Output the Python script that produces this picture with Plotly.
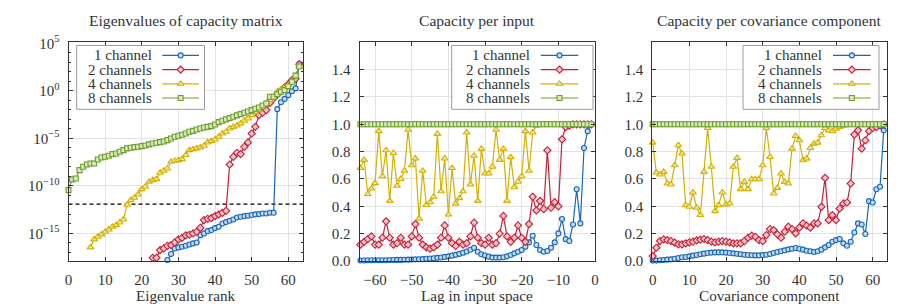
import plotly.graph_objects as go

# ---------------- data ----------------
series_names = ["1 channel", "2 channels", "4 channels", "8 channels"]

ranks = list(range(64))          # panel 1 x
lags = list(range(-64, 0))       # panel 2 x
components = list(range(64))     # panel 3 x

# Panel 1: log10 of eigenvalues (None = below the visible range)
eig_log10_1ch = [None] * 27 + [
    -17.8, -17.17, -16.58, -16.47, -16.40, -16.30, -16.16, -16.05, -15.95,
    -15.18, -15.0, -14.76, -14.65, -14.44, -14.30, -13.95, -13.81, -13.67, -13.53,
    -13.32, -13.25, -13.18, -13.14, -13.07, -13.0, -12.97, -12.90, -12.90, -12.83,
    -12.83, -1.93, -1.2, -0.85, -0.46, -0.05, 0.25, 2.8]
eig_log10_2ch = [None] * 23 + [
    -17.56, -17.56, -16.75, -16.58, -16.30, -16.23, -15.95, -15.63, -15.46, -15.21,
    -15.14, -15.0, -14.83, -14.41, -13.6, -13.46, -13.39, -13.18, -13.0, -12.83,
    -12.62, -7.75, -6.94, -6.52, -6.66, -5.89, -5.43, -4.49, -3.79, -2.56,
    -2.31, -2.03, -1.26, -0.81, -0.39, 0.0, 0.35, 0.70, 1.12, 1.26,
    2.80]
eig_log10_4ch = [None] * 6 + [
    -16.47, -15.63, -15.35, -15.1, -14.83, -14.58, -14.3, -14.13, -13.85, -13.53,
    -11.99, -11.5, -11.25, -10.9, -10.34, -10.09, -9.57, -9.39, -9.29, -8.62,
    -8.41, -8.17, -7.47, -7.36, -7.29, -7.19, -6.76, -6.24, -6.13, -6.06,
    -5.96, -5.78, -5.43, -5.29, -5.12, -4.84, -4.49, -4.31, -3.96, -3.79,
    -3.65, -3.43, -3.15, -2.91, -2.56, -2.24, -2.03, -1.75, -1.26, -0.98,
    -0.7, -0.1, 0.14, 0.35, 0.6, 0.95, 1.54, 2.59]
eig_log10_8ch = [
    -10.45, -9.32, -9.22, -8.34, -7.99, -7.75, -7.64, -7.64, -7.22, -7.01,
    -6.94, -6.83, -6.66, -6.59, -6.41, -6.24, -6.06, -5.99, -5.92, -5.89,
    -5.82, -5.75, -5.64, -5.54, -5.47, -5.40, -5.33, -5.19, -5.01, -4.84,
    -4.73, -4.63, -4.49, -4.31, -4.21, -4.07, -3.96, -3.86, -3.79, -3.72,
    -3.54, -3.29, -3.15, -3.01, -2.87, -2.73, -2.59, -2.45, -2.31, -2.17,
    -2.03, -1.89, -1.75, -1.54, -1.33, -0.63, -0.63, -0.35, -0.1, 0.07,
    0.49, 0.95, 1.6, 2.55]
threshold_log10 = -11.92

# Panel 2: capacity per input (lag)
cap_input_1ch = [
    0.004, 0.004, 0.005, 0.005, 0.005, 0.005, 0.006, 0.006, 0.007, 0.007,
    0.008, 0.008, 0.009, 0.010, 0.011, 0.012, 0.013, 0.014, 0.016, 0.018,
    0.020, 0.023, 0.026, 0.030, 0.034, 0.039, 0.045, 0.052, 0.060, 0.070,
    0.082, 0.097, 0.068, 0.049, 0.040, 0.032, 0.025, 0.025, 0.025, 0.027,
    0.034, 0.044, 0.056, 0.068, 0.080, 0.105, 0.136, 0.185, 0.117, 0.080,
    0.068, 0.073, 0.097, 0.136, 0.202, 0.307, 0.160, 0.146, 0.267, 0.525,
    0.275, 0.827, 0.95, 1.0]
cap_input_2ch = [
    0.12, 0.14, 0.16, 0.18, 0.12, 0.12, 0.17, 0.29, 0.17, 0.12,
    0.13, 0.17, 0.12, 0.12, 0.18, 0.27, 0.17, 0.12, 0.10, 0.09,
    0.10, 0.12, 0.17, 0.26, 0.17, 0.13, 0.11, 0.14, 0.12, 0.13,
    0.18, 0.28, 0.17, 0.13, 0.12, 0.17, 0.12, 0.13, 0.20, 0.33,
    0.18, 0.14, 0.17, 0.26, 0.17, 0.14, 0.27, 0.47, 0.37, 0.44,
    0.38, 0.81, 0.39, 0.43, 0.40, 0.89, 0.98, 0.99, 1.0, 1.0,
    1.0, 1.0, 1.0, 1.0]
cap_input_4ch = [
    0.68, 0.74, 0.49, 0.53, 0.57, 0.95, 0.62, 0.81, 0.44, 0.79,
    0.55, 0.60, 0.66, 0.96, 0.70, 0.75, 0.31, 0.66, 0.41, 0.43,
    0.47, 0.93, 0.51, 0.75, 0.34, 0.68, 0.42, 0.46, 0.51, 0.94,
    0.56, 0.77, 0.44, 0.82, 0.64, 0.64, 0.69, 0.96, 0.74, 0.82,
    0.44, 0.76, 0.54, 0.58, 0.62, 0.95, 0.66, 0.94, 0.99, 1.0,
    1.0, 1.0, 1.0, 1.0, 1.0, 1.0, 1.0, 1.0, 1.0, 1.0,
    1.0, 1.0, 1.0, 1.0]
cap_input_8ch = [1.0] * 64

# Panel 3: capacity per covariance component
cap_cov_1ch = [
    0.003, 0.003, 0.005, 0.007, 0.010, 0.012, 0.017, 0.022, 0.027, 0.029,
    0.034, 0.039, 0.044, 0.049, 0.054, 0.058, 0.061, 0.063, 0.063, 0.063,
    0.061, 0.059, 0.056, 0.053, 0.049, 0.046, 0.044, 0.042, 0.041, 0.041,
    0.043, 0.046, 0.051, 0.058, 0.066, 0.071, 0.078, 0.085, 0.090, 0.095,
    0.090, 0.083, 0.075, 0.071, 0.066, 0.071, 0.083, 0.100, 0.117, 0.141,
    0.153, 0.161, 0.129, 0.112, 0.141, 0.209, 0.275, 0.267, 0.197, 0.438,
    0.428, 0.525, 0.543, 0.956]
cap_cov_2ch = [
    0.036, 0.097, 0.146, 0.158, 0.153, 0.146, 0.134, 0.122, 0.122, 0.129,
    0.136, 0.141, 0.151, 0.156, 0.161, 0.153, 0.141, 0.136, 0.141, 0.146,
    0.141, 0.136, 0.129, 0.129, 0.129, 0.146, 0.170, 0.185, 0.177, 0.153,
    0.146, 0.190, 0.234, 0.226, 0.195, 0.170, 0.214, 0.251, 0.234, 0.202,
    0.244, 0.275, 0.258, 0.244, 0.275, 0.275, 0.396, 0.608, 0.299, 0.336,
    0.299, 0.384, 0.421, 0.428, 0.567, 0.925, 0.956, 0.822, 0.883, 0.950,
    0.973, 0.980, 0.993, 1.0]
cap_cov_4ch = [
    0.866, 0.647, 0.633, 0.652, 0.567, 0.560, 0.700, 0.847, 0.786, 0.409,
    0.397, 0.501, 0.390, 0.336, 0.652, 0.973, 0.689, 0.365, 0.409, 0.501,
    0.414, 0.421, 0.689, 0.754, 0.526, 0.579, 0.526, 0.598, 0.598, 0.598,
    0.700, 0.973, 0.761, 0.494, 0.535, 0.640, 0.579, 0.567, 0.822, 0.915,
    0.883, 0.737, 0.749, 0.827, 0.859, 0.866, 0.920, 0.973, 0.956, 0.950,
    0.968, 0.980, 0.990, 1.0, 1.0, 1.0, 1.0, 1.0, 1.0, 1.0,
    1.0, 1.0, 1.0, 1.0]
cap_cov_8ch = [1.0] * 64

panel_titles = ["Eigenvalues of capacity matrix", "Capacity per input",
                "Capacity per covariance component"]
axis_titles = ["Eigenvalue rank", "Lag in input space", "Covariance component"]
log_tick_exponents = [-15, -10, -5, 0, 5]
lin_ticks = [0.0, 0.2, 0.4, 0.6, 0.8, 1.0, 1.2, 1.4]
x_ticks_rank = [0, 10, 20, 30, 40, 50, 60]
x_ticks_lag = [-60, -50, -40, -30, -20, -10, 0]

# ---------------- style ----------------
WIN_W, WIN_H = 913, 307
OFF = 8                      # page body margin of the viewer
W, H = WIN_W - OFF, WIN_H - OFF
FONT = "Liberation Serif"
TXT = "#333333"
COLORS = ["#1667b7", "#c42139", "#d3b100", "#6d9e2b"]
FILLS = ["#c4daf1", "#f3c2c8", "#f4e6a0", "#d9e9bf"]
SYMBOLS = ["circle", "diamond", "triangle-up", "square"]
MSIZE = [5, 5.5, 6, 5]

# plot areas in window pixels (left, right, top, bottom)
PANELS = [(68.5, 303.3, 42.3, 261.0), (359.5, 595.0, 42.3, 261.0), (652.3, 887.0, 42.3, 261.0)]
X_RANGES = [[0, 64.1], [-64.25, 0], [-0.1, 63.9]]
Y1_RANGE = [-17.9, 5.1]
Y_LIN_RANGE = [0, 1.6]

fig = go.Figure()

def unlog(lst):
    return [None if v is None else 10 ** v for v in lst]

panel_data = [
    (ranks, [unlog(eig_log10_1ch), unlog(eig_log10_2ch), unlog(eig_log10_4ch), unlog(eig_log10_8ch)]),
    (lags, [cap_input_1ch, cap_input_2ch, cap_input_4ch, cap_input_8ch]),
    (components, [cap_cov_1ch, cap_cov_2ch, cap_cov_4ch, cap_cov_8ch]),
]

for p, (xs, ys_list) in enumerate(panel_data):
    xa = "x" if p == 0 else f"x{p+1}"
    ya = "y" if p == 0 else f"y{p+1}"
    if p == 0:
        fig.add_trace(go.Scatter(
            x=X_RANGES[0], y=[10 ** threshold_log10] * 2, mode="lines",
            line=dict(color="black", width=1.1, dash="4px,3px"),
            xaxis=xa, yaxis=ya, showlegend=False, hoverinfo="skip"))
    for i, ys in enumerate(ys_list):
        fig.add_trace(go.Scatter(
            x=xs, y=ys, mode="lines+markers", name=series_names[i],
            line=dict(color=COLORS[i], width=1.2),
            marker=dict(symbol=SYMBOLS[i], size=MSIZE[i], color=FILLS[i],
                        line=dict(color=COLORS[i], width=1.1)),
            cliponaxis=False, connectgaps=False,
            xaxis=xa, yaxis=ya, showlegend=False))

# ---------------- custom legends (pixel overlay) ----------------
LEGENDS = [  # box (x0, x1, y0, y1), text right edge, line x0, line x1
    ((76.7, 204.5, 45.5, 109.3), 154.0, 162.3, 199.0),
    ((451.7, 593.0, 45.5, 109.3), 531.7, 540.7, 578.3),
    ((743.0, 879.0, 45.5, 109.3), 823.7, 833.0, 870.7),
]
ROWS = [55.4, 69.6, 83.8, 98.0]
annotations = []
for (bx0, bx1, by0, by1), tx, lx0, lx1 in LEGENDS:
    fig.add_trace(go.Scatter(
        x=[bx0, bx1, bx1, bx0, bx0], y=[by0, by0, by1, by1, by0],
        mode="lines", fill="toself", fillcolor="white",
        line=dict(color="#9a9a9a", width=1), xaxis="x4", yaxis="y4",
        showlegend=False, hoverinfo="skip"))
    for i, ry in enumerate(ROWS):
        fig.add_trace(go.Scatter(
            x=[lx0, lx1], y=[ry, ry], mode="lines",
            line=dict(color=COLORS[i], width=1.2), xaxis="x4", yaxis="y4",
            showlegend=False, hoverinfo="skip"))
        fig.add_trace(go.Scatter(
            x=[(lx0 + lx1) / 2], y=[ry], mode="markers",
            marker=dict(symbol=SYMBOLS[i], size=MSIZE[i], color=FILLS[i],
                        line=dict(color=COLORS[i], width=1.1)),
            xaxis="x4", yaxis="y4", showlegend=False, hoverinfo="skip"))
        annotations.append(dict(
            x=tx, y=ry, xref="x4", yref="y4", text=series_names[i],
            showarrow=False, xanchor="right", yanchor="middle",
            font=dict(family=FONT, size=15, color=TXT)))

for p, (l, r, t, b) in enumerate(PANELS):
    cx = (l + r) / 2
    annotations.append(dict(
        x=cx, y=20.5, xref="x4", yref="y4", text=panel_titles[p], showarrow=False,
        xanchor="center", yanchor="middle", font=dict(family=FONT, size=15.6, color=TXT)))
    annotations.append(dict(
        x=cx, y=295.5, xref="x4", yref="y4", text=axis_titles[p], showarrow=False,
        xanchor="center", yanchor="middle", font=dict(family=FONT, size=15.2, color=TXT)))

axis_common = dict(
    showline=True, linecolor="#333333", linewidth=1, mirror="ticks",
    ticks="inside", ticklen=4, tickwidth=1, tickcolor="#333333",
    showgrid=True, gridcolor="#e2e2e2", gridwidth=1, zeroline=False,
    automargin=False,
    tickfont=dict(family=FONT, size=15, color=TXT), fixedrange=True)

def dom_x(p):
    l, r, t, b = PANELS[p]
    return [(l - OFF) / W, (r - OFF) / W]

def dom_y(p):
    l, r, t, b = PANELS[p]
    return [1 - (b - OFF) / H, 1 - (t - OFF) / H]

def minus(v):
    return str(v).replace("-", "\u2212")

layout = dict(
    template="none",
    width=W, height=H, margin=dict(l=0, r=0, t=0, b=0, pad=0, autoexpand=False),
    paper_bgcolor="white", plot_bgcolor="rgba(0,0,0,0)",
    showlegend=False, annotations=annotations,
    xaxis=dict(axis_common, domain=dom_x(0), range=X_RANGES[0], anchor="y",
               tickvals=x_ticks_rank, ticklabelstandoff=5),
    yaxis=dict(axis_common, domain=dom_y(0), type="log", range=Y1_RANGE, anchor="x",
               tickvals=[10 ** e for e in log_tick_exponents],
               ticktext=[f"10<sup>{minus(e)}</sup>" for e in log_tick_exponents],
               ticklabelstandoff=5,
               minor=dict(ticks="inside", ticklen=2, dtick=1, showgrid=False,
                          tickcolor="#333333")),
    xaxis2=dict(axis_common, domain=dom_x(1), range=X_RANGES[1], anchor="y2",
                tickvals=x_ticks_lag, ticktext=[minus(v) for v in x_ticks_lag],
                ticklabelstandoff=5),
    yaxis2=dict(axis_common, domain=dom_y(1), range=Y_LIN_RANGE, anchor="x2",
                tickvals=lin_ticks, ticktext=[f"{v:.1f}" for v in lin_ticks],
                ticklabelstandoff=5),
    xaxis3=dict(axis_common, domain=dom_x(2), range=X_RANGES[2], anchor="y3",
                tickvals=x_ticks_rank, ticklabelstandoff=5),
    yaxis3=dict(axis_common, domain=dom_y(2), range=Y_LIN_RANGE, anchor="x3",
                tickvals=lin_ticks, ticktext=[f"{v:.1f}" for v in lin_ticks],
                ticklabelstandoff=5),
    xaxis4=dict(domain=[0, 1], range=[OFF, OFF + W], visible=False, anchor="y4",
                fixedrange=True, automargin=False),
    yaxis4=dict(domain=[0, 1], range=[OFF + H, OFF], visible=False, anchor="x4",
                fixedrange=True, automargin=False),
)
fig.update_layout(**layout)
fig.write_html("out.html")
